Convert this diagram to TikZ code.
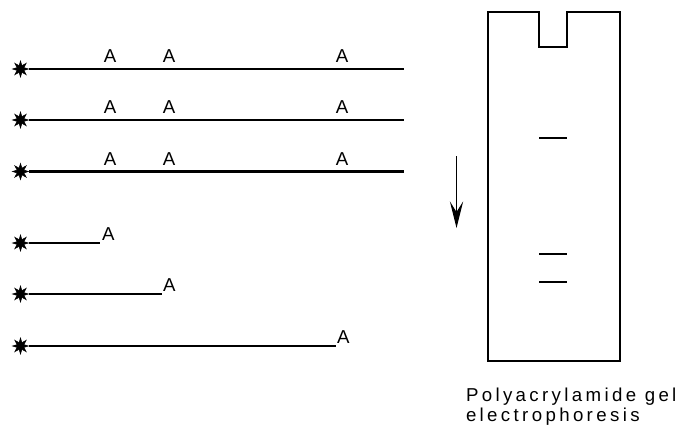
\documentclass[tikz,border=0pt]{standalone}
\usepackage{fontspec}
\setmainfont{Liberation Sans}
\newfontfamily\gelfont[LetterSpace=18]{Liberation Sans}
\usetikzlibrary{arrows.meta,positioning,shapes.geometric}

\begin{document}
\begin{tikzpicture}[
    x=0.75pt, y=-0.75pt,
    font=\fontsize{14}{16}\selectfont,
    >=Stealth,
    line width=1.5pt,
    endlabel/.style={star, star points=8, star point ratio=2.2, minimum size=12pt, inner sep=0pt, fill=black, draw=black, line width=0.4pt},
    strand/.style={line width=1.9pt},
    sitelabel/.style={inner sep=0pt, anchor=base},
    cutlabel/.style={inner sep=0pt, anchor=base west},
    gelwall/.style={line width=0.8pt},
    band/.style={line width=1.8pt},
    gellabel/.style={inner sep=0pt, anchor=base west, font=\gelfont\fontsize{14}{16}\selectfont}
]
\useasboundingbox (0,0) rectangle (680,428);

% full length strands
\node[endlabel] (sa) at (20.5,69) {};
\coordinate (ea) at (404,69);
\draw[strand] (sa) -- (ea);
\node[sitelabel] (aa1) at (110,62.5) {A};
\node[sitelabel] (aa2) at (169,62.5) {A};
\node[sitelabel] (aa3) at (342,62.5) {A};

\node[endlabel] (sb) at (20.5,120) {};
\coordinate (eb) at (404,120);
\draw[strand] (sb) -- (eb);
\node[sitelabel] (ab1) at (110,113.5) {A};
\node[sitelabel] (ab2) at (169,113.5) {A};
\node[sitelabel] (ab3) at (342,113.5) {A};

\node[endlabel] (sc) at (20.5,171.5) {};
\coordinate (ec) at (404,171.5);
\draw[strand] (sc) -- (ec);
\node[sitelabel] (ac1) at (110,165) {A};
\node[sitelabel] (ac2) at (169,165) {A};
\node[sitelabel] (ac3) at (342,165) {A};

% cleaved fragments
\node[endlabel] (sd) at (20.5,243) {};
\coordinate (ed) at (100,243);
\draw[strand] (sd) -- (ed);
\node[cutlabel] (ad) at (101,240.5) {A};

\node[endlabel] (se) at (20.5,294) {};
\coordinate (ee) at (162,294);
\draw[strand] (se) -- (ee);
\node[cutlabel] (ae) at (162,291.5) {A};

\node[endlabel] (sf) at (20.5,346) {};
\coordinate (ef) at (336,346);
\draw[strand] (sf) -- (ef);
\node[cutlabel] (af) at (336,343.5) {A};

% direction of migration
\coordinate (runtop) at (456.5,156);
\coordinate (runbot) at (456.5,228);
\draw[-{Stealth[length=20pt, width=10pt, inset=8pt]}, line width=0.9pt] (runtop) -- (runbot);

% gel with well
\draw[gelwall] (488,12) -- (539,12) -- (539,47) -- (567,47) -- (567,12) -- (620,12) -- (620,361) -- (488,361) -- cycle;
\draw[band] (539,138) -- (567,138);
\draw[band] (539,254) -- (567,254);
\draw[band] (539,282) -- (567,282);

\node[gellabel] (gelname) at (465,401) {Polyacrylamide gel};
\node[gellabel] (gelnameb) at (465,421) {electrophoresis};
\end{tikzpicture}
\end{document}
